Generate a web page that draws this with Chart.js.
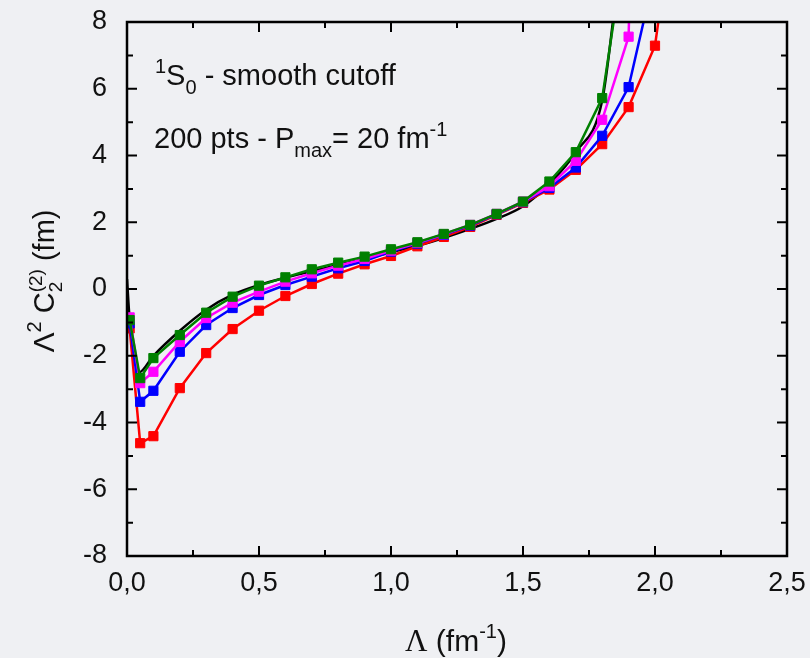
<!DOCTYPE html>
<html>
<head>
<meta charset="utf-8">
<script src="https://cdn.jsdelivr.net/npm/chart.js@4.4.1/dist/chart.umd.min.js"></script>
<style>
  html, body { margin: 0; padding: 0; background: #eff0f3; }
  canvas { display: block; }
</style>
</head>
<body>
<canvas id="myChart" width="810" height="658"></canvas>
<script>
// Lambda values (fm^-1) for the computed points
const lambda = [0.01, 0.05, 0.1, 0.2, 0.3, 0.4, 0.5, 0.6, 0.7, 0.8, 0.9, 1.0,
                1.1, 1.2, 1.3, 1.4, 1.5, 1.6, 1.7, 1.8, 1.9, 2.0, 2.1];

const redVals     = [-1.18, -4.62, -4.41, -2.97, -1.92, -1.20, -0.65, -0.21, 0.15, 0.46, 0.74, 0.99,
                     1.28, 1.56, 1.86, 2.22, 2.58, 2.98, 3.57, 4.34, 5.45, 7.29, 13.0];
const blueVals    = [-1.03, -3.38, -3.05, -1.88, -1.08, -0.57, -0.18, 0.12, 0.37, 0.62, 0.84, 1.12,
                     1.36, 1.62, 1.90, 2.24, 2.60, 3.03, 3.64, 4.59, 6.05, 9.5, null];
const magentaVals = [-0.85, -2.82, -2.48, -1.58, -0.87, -0.41, -0.08, 0.22, 0.47, 0.70, 0.90, 1.15,
                     1.38, 1.64, 1.92, 2.25, 2.62, 3.08, 3.84, 5.07, 7.56, 40.0, null];
const greenVals   = [-0.93, -2.67, -2.07, -1.38, -0.71, -0.23, 0.10, 0.35, 0.59, 0.79, 0.97, 1.19,
                     1.40, 1.65, 1.92, 2.25, 2.62, 3.22, 4.10, 5.72, 11.0, null, null];

// reference curve (no markers)
const blackX = [0, 0.01, 0.045, 0.1, 0.2, 0.3, 0.4, 0.5, 0.6, 0.7, 0.8, 0.9, 1.0,
                1.1, 1.2, 1.3, 1.4, 1.5, 1.6, 1.7, 1.8, 1.85];
const blackY = [0.3, -0.9, -2.5, -2.0, -1.25, -0.62, -0.17, 0.12, 0.34, 0.53, 0.72, 0.9, 1.1,
                1.3, 1.53, 1.8, 2.1, 2.48, 3.15, 4.1, 5.65, 8.6];

const xTicks = [0, 0.5, 1.0, 1.5, 2.0, 2.5];
const yTicks = [-8, -6, -4, -2, 0, 2, 4, 6, 8];

const toPts = (xs, ys) => xs.map((x, i) => ({ x: x, y: ys[i] })).filter(p => p.y !== null);

function markerSet(vals, color, order) {
    return {
        data: toPts(lambda, vals),
        borderColor: color,
        backgroundColor: color,
        borderWidth: 2.5,
        pointStyle: 'rect',
        pointRadius: 6.5,
        pointBorderWidth: 1,
        pointBorderColor: color,
        pointBackgroundColor: color,
        tension: 0,
        order: order
    };
}

const SANS = '"Liberation Sans", Arial, sans-serif';
const SERIF = '"Liberation Serif", "Times New Roman", serif';

// text runs with super/subscripts: {t, size, dy, font} or {stack: [...]}
function runsWidth(ctx, runs) {
    let w = 0;
    runs.forEach(r => {
        ctx.font = r.size + 'px ' + (r.font || SANS);
        if (!r.stack) w += ctx.measureText(r.t).width;
        else w += Math.max(...r.stack.map(s => { ctx.font = s.size + 'px ' + SANS; return ctx.measureText(s.t).width; }));
    });
    return w;
}
function drawRuns(ctx, runs, x, y) {
    runs.forEach(r => {
        if (r.stack) {
            let w = 0;
            r.stack.forEach(s => {
                ctx.font = s.size + 'px ' + SANS;
                ctx.fillText(s.t, x, y + s.dy);
                w = Math.max(w, ctx.measureText(s.t).width);
            });
            x += w;
        } else {
            ctx.font = r.size + 'px ' + (r.font || SANS);
            ctx.fillText(r.t, x, y + (r.dy || 0));
            x += ctx.measureText(r.t).width;
        }
    });
}

const decorations = {
    id: 'decorations',
    beforeDraw(chart) {
        const c = chart.ctx;
        c.save();
        c.fillStyle = '#eff0f3';
        c.fillRect(0, 0, chart.width, chart.height);
        c.restore();
    },
    afterDraw(chart) {
        const c = chart.ctx;
        const a = chart.chartArea;
        const xs = chart.scales.x, ys = chart.scales.y;
        c.save();
        c.strokeStyle = '#000';
        c.lineWidth = 2.5;
        c.strokeRect(a.left, a.top, a.right - a.left, a.bottom - a.top);
        c.lineWidth = 2;
        c.beginPath();
        for (let v = 0; v <= 2.5001; v += 0.25) {
            const px = xs.getPixelForValue(v);
            const len = (Math.round(v * 4) % 2 === 0) ? 10 : 6;
            c.moveTo(px, a.bottom); c.lineTo(px, a.bottom - len);
            c.moveTo(px, a.top); c.lineTo(px, a.top + len);
        }
        for (let v = -8; v <= 8; v += 1) {
            const py = ys.getPixelForValue(v);
            const len = (v % 2 === 0) ? 10 : 6;
            c.moveTo(a.left, py); c.lineTo(a.left + len, py);
            c.moveTo(a.right, py); c.lineTo(a.right - len, py);
        }
        c.stroke();

        c.fillStyle = '#111';
        c.textBaseline = 'alphabetic';
        c.textAlign = 'left';
        // annotations
        drawRuns(c, [
            { t: '1', size: 20, dy: -12 },
            { t: 'S', size: 29 },
            { t: '0', size: 20, dy: 9 },
            { t: ' - smooth cutoff', size: 29 }
        ], 155, 85);
        drawRuns(c, [
            { t: '200 pts - P', size: 29 },
            { t: 'max', size: 20, dy: 9 },
            { t: '= 20 fm', size: 29 },
            { t: '-1', size: 20, dy: -12 }
        ], 154, 148);

        // x title
        const xRuns = [
            { t: '\u039B', size: 31, font: SERIF },
            { t: ' (fm', size: 30 },
            { t: '-1', size: 20, dy: -13 },
            { t: ')', size: 30 }
        ];
        const xw = runsWidth(c, xRuns);
        drawRuns(c, xRuns, 456 - xw / 2, 651);

        // y title
        const yRuns = [
            { t: '\u039B', size: 30 },
            { t: '2', size: 20, dy: -13 },
            { t: ' C', size: 29 },
            { stack: [{ t: '(2)', size: 19, dy: -12 }, { t: '2', size: 19, dy: 8 }] },
            { t: ' (fm)', size: 29 }
        ];
        const yw = runsWidth(c, yRuns);
        c.translate(54, 281);
        c.rotate(-Math.PI / 2);
        drawRuns(c, yRuns, -yw / 2, 0);
        c.restore();
    }
};

// keep tick labels from pushing the plot area around
const noPad = s => { s.paddingTop = 0; s.paddingBottom = 0; s.paddingLeft = 0; s.paddingRight = 0; };

const ctx = document.getElementById('myChart');

new Chart(ctx, {
    type: 'line',
    data: {
        datasets: [
            {
                data: toPts(blackX, blackY),
                borderColor: '#000',
                borderWidth: 2.5,
                pointRadius: 0,
                cubicInterpolationMode: 'monotone',
                order: 5
            },
            markerSet(redVals, '#ff0000', 4),
            markerSet(blueVals, '#0000ff', 3),
            markerSet(magentaVals, '#ff00ff', 2),
            markerSet(greenVals, '#008000', 1)
        ]
    },
    options: {
        responsive: false,
        animation: false,
        layout: { padding: { left: 0, top: 22, right: 23, bottom: 0 } },
        plugins: {
            legend: { display: false },
            tooltip: { enabled: false }
        },
        scales: {
            x: {
                type: 'linear',
                min: 0,
                max: 2.5,
                grid: { display: false },
                border: { display: false },
                afterBuildTicks: s => { s.ticks = xTicks.map(v => ({ value: v })); },
                afterFit: s => { s.height = 102; noPad(s); },
                ticks: {
                    padding: 3,
                    color: '#111',
                    font: { family: SANS, size: 27 },
                    callback: v => v.toFixed(1).replace('.', ',')
                }
            },
            y: {
                min: -8,
                max: 8,
                grid: { display: false },
                border: { display: false },
                afterBuildTicks: s => { s.ticks = yTicks.map(v => ({ value: v })); },
                afterFit: s => { s.width = 127; noPad(s); },
                ticks: {
                    padding: 12,
                    color: '#111',
                    font: { family: SANS, size: 27 },
                    callback: v => String(v)
                }
            }
        }
    },
    plugins: [decorations]
});
</script>
</body>
</html>
